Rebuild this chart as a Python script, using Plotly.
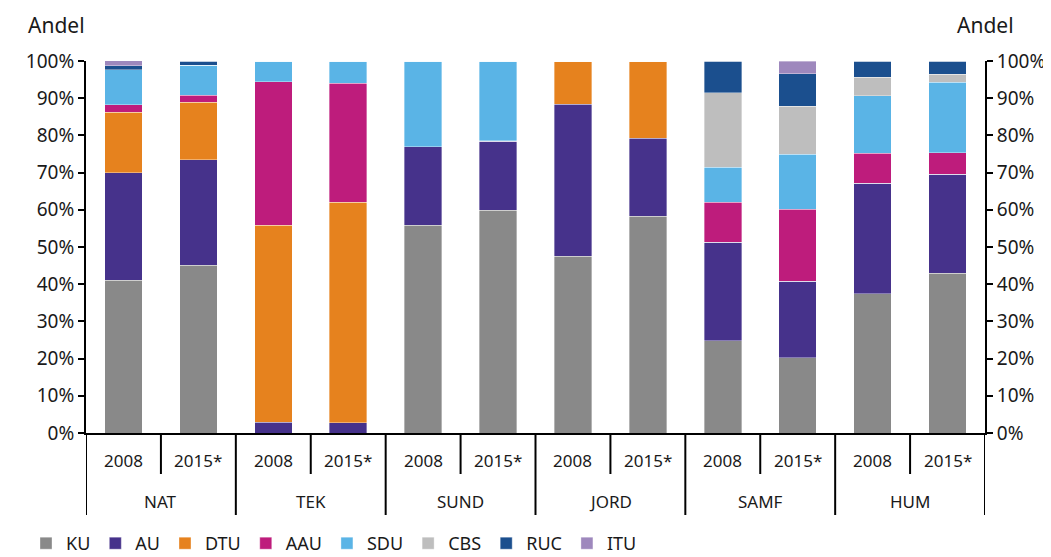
import plotly.graph_objects as go

groups = ["NAT", "TEK", "SUND", "JORD", "SAMF", "HUM"]
years = ["2008", "2015*"]

# shares in percent, per university, two years per field in the order above
KU = [41.0, 45.1, 0.0, 0.0, 55.8, 59.9, 47.5, 58.3, 24.8, 20.2, 37.5, 42.9]
AU = [28.9, 28.3, 2.9, 2.7, 21.2, 18.5, 40.9, 21.0, 26.5, 20.6, 29.7, 26.6]
DTU = [16.3, 15.5, 52.9, 59.3, 0.0, 0.0, 11.6, 20.7, 0.0, 0.0, 0.0, 0.0]
AAU = [2.1, 1.9, 38.6, 32.0, 0.0, 0.2, 0.0, 0.0, 10.7, 19.3, 8.0, 5.9]
SDU = [9.3, 8.1, 5.6, 6.0, 23.0, 21.4, 0.0, 0.0, 9.5, 14.9, 15.4, 18.9]
CBS = [0.0, 0.0, 0.0, 0.0, 0.0, 0.0, 0.0, 0.0, 20.0, 12.9, 5.1, 2.2]
RUC = [1.1, 1.1, 0.0, 0.0, 0.0, 0.0, 0.0, 0.0, 8.5, 8.7, 4.3, 3.5]
ITU = [1.5, 0.0, 0.0, 0.0, 0.0, 0.0, 0.0, 0.0, 0.0, 3.4, 0.0, 0.0]

series = [
    ("KU", KU, "#898989"),
    ("AU", AU, "#46328B"),
    ("DTU", DTU, "#E6821E"),
    ("AAU", AAU, "#BE1C7C"),
    ("SDU", SDU, "#5AB4E6"),
    ("CBS", CBS, "#BEBEBE"),
    ("RUC", RUC, "#1B4F8E"),
    ("ITU", ITU, "#9E88BD"),
]

tick_vals = [0, 10, 20, 30, 40, 50, 60, 70, 80, 90, 100]
tick_text = [f"{v}%" for v in tick_vals]

n = len(groups) * len(years)
xpos = list(range(n))

fig = go.Figure()
for name, vals, color in series:
    fig.add_trace(go.Bar(
        name=name, x=xpos, y=vals,
        marker=dict(color=color, line=dict(color="rgba(255,255,255,0.6)", width=0.6)),
    ))

# invisible trace to carry the right-hand axis
fig.add_trace(go.Scatter(x=xpos, y=[None] * n, yaxis="y2",
                         showlegend=False, hoverinfo="skip"))

# the page body has an 8px margin, so the figure is sized to fit inside the window
W, H = 1043, 549
M_L, M_R, M_T, M_B = 78, 66, 53, 124
plot_h = H - M_T - M_B
plot_w = W - M_L - M_R
year_drop = 41 / plot_h
group_drop = 82 / plot_h

label_font = dict(family="Noto Sans", size=17, color="#1a1a1a")
annotations = []
shapes = []
for i in range(n):
    annotations.append(dict(text=years[i % 2], x=i, xref="x", y=-27 / plot_h, yref="paper",
                            showarrow=False, xanchor="center", yanchor="middle", font=label_font))
    if i % 2 == 0:
        annotations.append(dict(text=groups[i // 2], x=i + 0.5, xref="x", y=-68 / plot_h,
                                yref="paper", showarrow=False, xanchor="center",
                                yanchor="middle", font=label_font))
        shapes.append(dict(type="line", x0=i + 0.5, x1=i + 0.5, xref="x", y0=0, y1=-year_drop,
                           yref="paper", line=dict(color="black", width=2)))
for k in range(len(groups) + 1):
    xb = 2 * k - 0.5
    shapes.append(dict(type="line", x0=xb, x1=xb, xref="x", y0=0, y1=-group_drop,
                       yref="paper", line=dict(color="black", width=2)))

title_font = dict(family="Noto Sans", size=21, color="#1a1a1a")
annotations += [
    dict(text="Andel", xref="paper", yref="paper", x=-30 / plot_w, y=1 + 36 / plot_h,
         xanchor="center", yanchor="middle", showarrow=False, font=title_font),
    dict(text="Andel", xref="paper", yref="paper", x=1.0, y=1 + 36 / plot_h,
         xanchor="center", yanchor="middle", showarrow=False, font=title_font),
]

axis_font = dict(family="Noto Sans", size=19, color="#1a1a1a")
fig.update_layout(
    width=W, height=H,
    barmode="stack", bargap=0.5,
    margin=dict(l=M_L, r=M_R, t=M_T, b=M_B, autoexpand=False),
    paper_bgcolor="white", plot_bgcolor="white",
    font=dict(family="Noto Sans", size=17, color="#1a1a1a"),
    xaxis=dict(
        range=[-0.5, n - 0.5], showticklabels=False, ticks="",
        showline=True, linecolor="black", linewidth=2, showgrid=False, zeroline=False,
    ),
    yaxis=dict(
        range=[0, 100], tickvals=tick_vals, ticktext=tick_text,
        showline=True, linecolor="black", linewidth=2,
        ticks="outside", ticklen=6, tickwidth=2, tickcolor="black",
        showgrid=False, zeroline=False, tickfont=axis_font,
    ),
    yaxis2=dict(
        range=[0, 100], tickvals=tick_vals, ticktext=tick_text,
        overlaying="y", side="right",
        showline=True, linecolor="black", linewidth=2,
        ticks="outside", ticklen=6, tickwidth=2, tickcolor="black",
        showgrid=False, zeroline=False, tickfont=axis_font,
    ),
    legend=dict(orientation="h", x=-60 / plot_w, xanchor="left", y=-92 / plot_h, yref="paper",
                yanchor="top", font=dict(family="Liberation Sans Narrow, Noto Sans", size=18),
                itemwidth=30, traceorder="normal", tracegroupgap=0),
    annotations=annotations,
    shapes=shapes,
)

fig.write_html("out.html")
